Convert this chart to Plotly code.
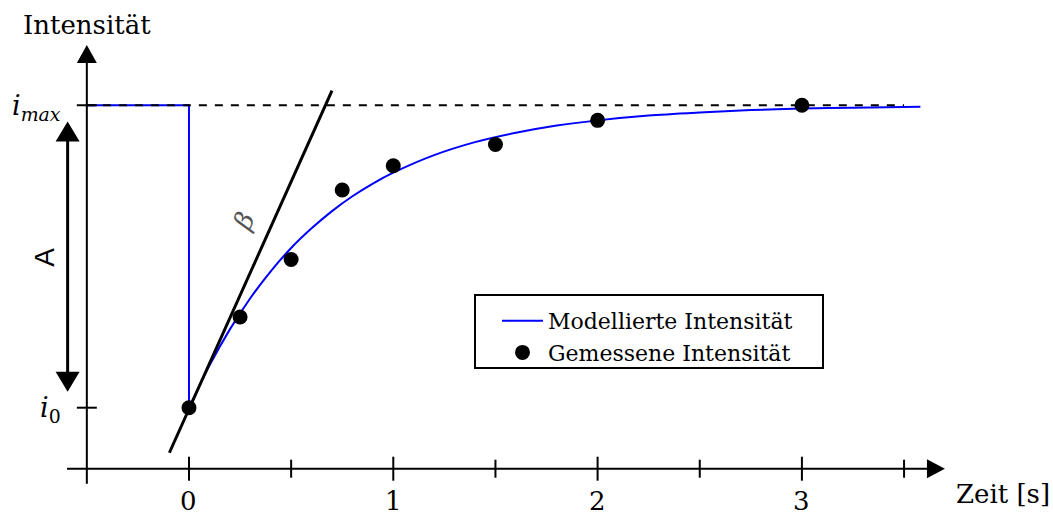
import plotly.graph_objects as go

# Measured intensity (normalised: i0 = 0, imax = 1)
t_meas = [0.0, 0.25, 0.5, 0.75, 1.0, 1.5, 2.0, 3.0]
i_meas = [0.0, 0.30, 0.49, 0.72, 0.80, 0.87, 0.95, 1.0]

# Modelled intensity after the drop at t = 0
t_model = [0.0, 0.1, 0.2, 0.3, 0.4, 0.5, 0.6, 0.7, 0.8, 0.9, 1.0, 1.2, 1.4, 1.6, 1.8,
           2.0, 2.25, 2.5, 2.75, 3.0, 3.25, 3.58]
i_model = [0.0, 0.139, 0.259, 0.362, 0.451, 0.528, 0.593, 0.650, 0.699, 0.741, 0.777,
           0.835, 0.878, 0.909, 0.933, 0.950, 0.966, 0.976, 0.984, 0.989, 0.992, 0.995]

# Intensity before and at the drop
t_step = [-0.5, 0.0, 0.0]
i_step = [1.0, 1.0, 0.0]

# Initial slope (beta) through the first point
t_tangent = [-0.096, 0.70]
i_tangent = [-0.149, 1.048]

# Reference level imax
t_ref = [-0.5, 3.5]
i_ref = [1.0, 1.0]

# Axis ticks
x_major = [0, 1, 2, 3]
x_major_labels = ["0", "1", "2", "3"]
x_minor = [0.5, 1.5, 2.5, 3.5]
y_ticks = [0.0, 1.0]

W, H = 1053, 517
XR = [-0.925, 4.229]
YR = [-0.3614, 1.348]
SX = W / (XR[1] - XR[0])
SY = H / (YR[1] - YR[0])


def dxp(p):
    return p / SX


def dyp(p):
    return p / SY


X_AXIS_Y = -0.2017
Y_AXIS_X = -0.5
X_AXIS_END = 3.70
Y_AXIS_END = 1.199

SERIF = "DejaVu Serif, serif"
SANS = "Liberation Sans, Arial, sans-serif"

fig = go.Figure()

fig.add_trace(go.Scatter(x=t_step, y=i_step, mode="lines", showlegend=False,
                         line=dict(color="#0000ff", width=2), hoverinfo="skip"))
fig.add_trace(go.Scatter(x=t_model, y=i_model, mode="lines", name="Modellierte Intensität",
                         line=dict(color="#0000ff", width=2, shape="spline", smoothing=0.8)))
fig.add_trace(go.Scatter(x=t_ref, y=i_ref, mode="lines", showlegend=False,
                         line=dict(color="black", width=2, dash="8px,8px"), hoverinfo="skip"))
fig.add_trace(go.Scatter(x=t_tangent, y=i_tangent, mode="lines", showlegend=False,
                         line=dict(color="black", width=3), hoverinfo="skip"))
fig.add_trace(go.Scatter(x=t_meas, y=i_meas, mode="markers", name="Gemessene Intensität",
                         marker=dict(color="black", size=15)))

shapes = []
line_k = dict(color="black", width=2)

# x axis with arrow
shapes.append(dict(type="line", xref="x", yref="y", x0=-0.597, x1=X_AXIS_END - dxp(14),
                   y0=X_AXIS_Y, y1=X_AXIS_Y, line=line_k))
shapes.append(dict(type="path", xref="x", yref="y",
                   path=f"M {X_AXIS_END},{X_AXIS_Y} L {X_AXIS_END - dxp(18)},{X_AXIS_Y + dyp(9.5)} "
                        f"L {X_AXIS_END - dxp(18)},{X_AXIS_Y - dyp(9.5)} Z",
                   fillcolor="black", line=dict(width=0)))
# y axis with arrow
shapes.append(dict(type="line", xref="x", yref="y", x0=Y_AXIS_X, x1=Y_AXIS_X,
                   y0=X_AXIS_Y - dyp(15), y1=Y_AXIS_END - dyp(14), line=line_k))
shapes.append(dict(type="path", xref="x", yref="y",
                   path=f"M {Y_AXIS_X},{Y_AXIS_END} L {Y_AXIS_X - dxp(10)},{Y_AXIS_END - dyp(18)} "
                        f"L {Y_AXIS_X + dxp(10)},{Y_AXIS_END - dyp(18)} Z",
                   fillcolor="black", line=dict(width=0)))
# x ticks
for xv in x_major:
    shapes.append(dict(type="line", xref="x", yref="y", x0=xv, x1=xv,
                       y0=X_AXIS_Y - dyp(12), y1=X_AXIS_Y + dyp(12), line=line_k))
for xv in x_minor:
    shapes.append(dict(type="line", xref="x", yref="y", x0=xv, x1=xv,
                       y0=X_AXIS_Y - dyp(9), y1=X_AXIS_Y + dyp(9), line=line_k))
# y ticks
for yv in y_ticks:
    shapes.append(dict(type="line", xref="x", yref="y", x0=Y_AXIS_X - dxp(10), x1=Y_AXIS_X + dxp(10),
                       y0=yv, y1=yv, line=line_k))

# double arrow marking the amplitude A
A_X = -0.594
A_TOP = 0.946
A_BOT = 0.053
shapes.append(dict(type="line", xref="x", yref="y", x0=A_X, x1=A_X,
                   y0=A_BOT + dyp(16), y1=A_TOP - dyp(16), line=dict(color="black", width=3)))
shapes.append(dict(type="path", xref="x", yref="y",
                   path=f"M {A_X},{A_TOP} L {A_X - dxp(12)},{A_TOP - dyp(20)} L {A_X + dxp(12)},{A_TOP - dyp(20)} Z",
                   fillcolor="black", line=dict(width=0)))
shapes.append(dict(type="path", xref="x", yref="y",
                   path=f"M {A_X},{A_BOT} L {A_X - dxp(12)},{A_BOT + dyp(20)} L {A_X + dxp(12)},{A_BOT + dyp(20)} Z",
                   fillcolor="black", line=dict(width=0)))

# legend frame
shapes.append(dict(type="rect", xref="paper", yref="paper",
                   x0=475 / W, x1=823 / W, y0=1 - 368 / H, y1=1 - 295 / H,
                   line=dict(color="black", width=2), fillcolor="rgba(0,0,0,0)"))

annotations = []
for xv, lab in zip(x_major, x_major_labels):
    annotations.append(dict(x=xv, y=X_AXIS_Y - dyp(32), xref="x", yref="y", text=lab, showarrow=False,
                            xanchor="center", yanchor="middle", font=dict(family=SERIF, size=26, color="black")))

annotations.append(dict(x=Y_AXIS_X - dxp(24), y=1.0 - dyp(2), xref="x", yref="y",
                        text="<i>i</i><sub><i>max</i></sub>", showarrow=False,
                        xanchor="right", yanchor="middle", font=dict(family=SERIF, size=27, color="black")))
annotations.append(dict(x=Y_AXIS_X - dxp(24), y=0.0 - dyp(2), xref="x", yref="y",
                        text="<i>i</i><sub>0</sub>", showarrow=False,
                        xanchor="right", yanchor="middle", font=dict(family=SERIF, size=27, color="black")))
annotations.append(dict(x=0.269, y=0.617, xref="x", yref="y", text="<i>β</i>", showarrow=False,
                        textangle=-65, xanchor="center", yanchor="middle",
                        font=dict(family=SERIF, size=26, color="#555555")))
annotations.append(dict(x=A_X - dxp(24), y=0.498, xref="x", yref="y", text="A", showarrow=False,
                        textangle=-90, xanchor="center", yanchor="middle",
                        font=dict(family=SANS, size=28, color="black")))
annotations.append(dict(x=87 / W, y=1 - 25 / H, xref="paper", yref="paper", text="Intensität",
                        showarrow=False, xanchor="center", yanchor="middle",
                        font=dict(family=SERIF, size=26, color="black")))
annotations.append(dict(x=1003 / W, y=1 - 494 / H, xref="paper", yref="paper", text="Zeit [s]",
                        showarrow=False, xanchor="center", yanchor="middle",
                        font=dict(family=SERIF, size=26, color="black")))

fig.update_layout(
    width=W, height=H, autosize=False,
    margin=dict(l=0, r=0, t=0, b=0),
    paper_bgcolor="white", plot_bgcolor="white",
    xaxis=dict(range=XR, visible=False, fixedrange=True),
    yaxis=dict(range=YR, visible=False, fixedrange=True),
    shapes=shapes, annotations=annotations,
    showlegend=True,
    legend=dict(x=497 / W, y=1 - 300 / H, xanchor="left", yanchor="top",
                bgcolor="rgba(0,0,0,0)", borderwidth=0,
                font=dict(family=SERIF, size=22, color="black"),
                itemwidth=41),
)

fig.write_html("out.html")
